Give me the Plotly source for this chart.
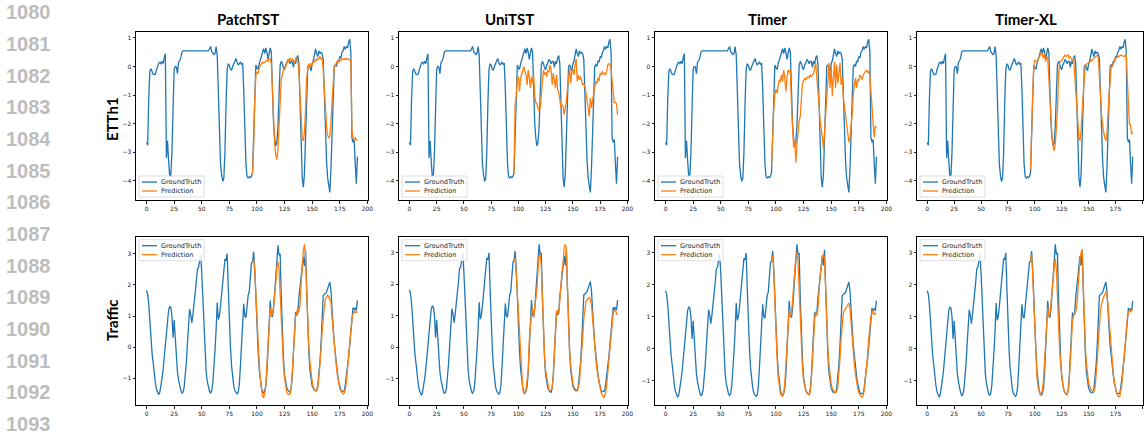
import plotly.graph_objects as go

FIG_W, FIG_H = 1148, 437

models = ["PatchTST", "UniTST", "Timer", "Timer-XL"]
datasets = ["ETTh1", "Traffic"]
time_index = list(range(192))
pred_index = list(range(96, 192))
x_tick_values = [0, 25, 50, 75, 100, 125, 150, 175, 200]
line_numbers = list(range(1080, 1094))
legend_labels = ["GroundTruth", "Prediction"]

etth1_truth = [
    -2.65, -2.75, -1.1, -0.15, -0.08, -0.15, -0.27, -0.28, -0.27, -0.12,
    0.05, 0.12, 0.15, 0.1, 0.18, 0.1, 0.3, 0.45, -3.2, -2.6,
    -3.3, -3.85, -3.8, -3.0, -1.5, -0.1, 0.0, -0.02, -0.25, 0.15,
    0.2, 0.3, 0.5, 0.55, 0.55, 0.55, 0.55, 0.55, 0.55, 0.55,
    0.55, 0.55, 0.55, 0.55, 0.55, 0.55, 0.55, 0.55, 0.55, 0.55,
    0.55, 0.55, 0.55, 0.55, 0.55, 0.55, 0.55, 0.62, 0.7, 0.52,
    0.45, 0.42, 0.45, 0.7, 0.4, -0.9, -2.4, -3.4, -3.8, -4.02,
    -3.9, -3.0, -1.3, -0.1, 0.08, 0.05, -0.1, -0.12, 0.0, 0.1,
    0.2, 0.28, 0.15, 0.05, 0.1, 0.15, 0.08, 0.12, -0.8, -2.4,
    -3.4, -3.85, -3.9, -3.85, -3.88, -3.85, -3.7, -2.4, -0.8, 0.05,
    -0.05, -0.1, 0.1, 0.2, 0.35, 0.5, 0.62, 0.45, 0.65, 0.5,
    0.25, 0.45, 0.65, 0.5, -0.9, -2.0, -2.5, -2.78, -2.65, -2.1,
    -1.0, 0.05, 0.18, 0.1, -0.05, -0.11, 0.05, 0.12, 0.25, 0.2,
    0.1, 0.18, 0.18, -0.03, 0.18, 0.1, 0.3, 0.38, 0.1, -1.5,
    -3.29, -3.9, -4.22, -3.75, -2.48, -1.0, 0.0, 0.06, -0.05, -0.15,
    0.1, 0.2, 0.4, 0.62, 0.45, 0.35, 0.55, 0.45, 0.5, 0.45,
    0.25, -1.0, -2.6, -3.3, -3.9, -4.2, -4.4, -3.6, -2.5, -1.0,
    0.0, 0.06, 0.0, 0.2, 0.15, 0.35, 0.3, 0.5, 0.55, 0.7,
    0.6, 0.7, 0.65, 0.85, 0.95, 0.5, -2.5, -2.65, -2.55, -3.4,
    -4.1, -3.15,
]

etth1_patchtst = [
    -3.75, -2.8, -1.2, -0.3, -0.2, -0.25, -0.05, 0.05, 0.1, 0.15,
    0.12, 0.15, 0.2, 0.22, 0.18, 0.28, 0.25, 0.1, -0.8, -2.0,
    -2.7, -3.1, -3.25, -2.9, -2.1, -1.0, -0.45, -0.3, -0.1, -0.05,
    0.0, 0.12, 0.25, 0.15, 0.3, 0.2, 0.28, 0.22, 0.1, 0.3,
    0.25, 0.2, -0.2, -1.0, -2.0, -2.5, -2.6, -2.3, -1.5, -0.4,
    -0.1, 0.1, -0.05, 0.12, 0.05, 0.2, 0.15, 0.25, 0.2, 0.3,
    0.25, 0.35, 0.25, 0.3, -0.1, -0.9, -1.6, -2.1, -2.4, -2.5,
    -2.45, -2.0, -1.2, -0.3, 0.0, 0.05, 0.12, 0.2, 0.15, 0.25,
    0.2, 0.28, 0.27, 0.25, 0.28, 0.25, 0.27, 0.25, 0.22, 0.2,
    -2.2, -2.5, -2.55, -2.5, -2.58, -2.55,
]

etth1_unitst = [
    -3.76, -1.3, -1.1, -0.4, -0.35, -0.87, -0.4, -0.25, -0.12, 0.0,
    -0.17, -0.3, -0.64, -0.12, -0.4, -0.75, -0.35, -0.58, -0.29, -1.04,
    -1.27, -1.3, -1.45, -1.56, -1.45, -0.98, -0.64, -0.12, -0.29, -0.2,
    -0.35, -0.12, -0.2, 0.06, -0.12, -0.64, -0.23, -0.5, -0.75, -0.29,
    -0.81, -0.9, -1.16, -1.45, -1.35, -1.39, -1.68, -1.45, -1.22, -0.75,
    -0.29, -0.06, -0.58, -0.17, -0.1, -0.29, 0.06, 0.27, -0.52, -0.3,
    -0.46, -0.35, -0.52, -0.64, -0.6, -0.7, -0.93, -1.27, -1.5, -1.74,
    -1.1, -1.45, -1.2, -0.95, -0.81, -0.52, -0.6, -0.4, -0.5, -0.23,
    -0.3, -0.17, -0.25, -0.23, -0.3, -0.17, 0.06, 0.1, 0.05, -0.06,
    -0.5, -0.98, -1.27, -1.25, -1.3, -1.7,
]

etth1_timer = [
    -3.5, -2.3, -1.5, -0.98, -0.8, -0.93, -0.64, -0.46, -0.55, -0.29,
    -0.52, -0.12, -0.4, -0.87, -0.35, -0.12, -0.2, -0.12, -1.33, -1.91,
    -2.84, -2.6, -3.36, -2.72, -2.14, -1.9, -1.74, -0.98, -0.58, -0.52,
    -0.4, -0.46, -0.38, -0.35, -0.4, -0.29, -0.35, -0.29, -0.25, -0.05,
    0.12, -0.4, -0.75, -1.33, -1.91, -2.14, -2.48, -2.9, -2.3, -1.68,
    -0.98, -0.29, 0.12, -0.75, 0.06, -1.04, -0.29, 0.17, -0.75, 0.06,
    -0.58, -0.17, 0.12, -0.64, -0.4, -1.1, -1.33, -1.68, -2.03, -2.37,
    -2.65, -2.48, -2.14, -1.68, -0.98, -0.64, -0.4, -0.75, -0.45, -0.52,
    -0.29, -0.35, -0.46, -0.3, -0.23, -0.15, -0.12, -0.2, -0.17, -0.3,
    -0.98, -1.56, -2.0, -2.48, -2.08, -2.14,
]

etth1_timerxl = [
    -3.6, -2.0, -0.98, -0.06, 0.23, 0.2, 0.17, 0.23, 0.3, 0.4,
    0.52, 0.4, 0.29, 0.46, 0.17, 0.35, 0.3, -0.4, -1.2, -1.91,
    -2.48, -2.75, -2.95, -2.7, -2.1, -1.56, -0.4, 0.17, 0.17, 0.22,
    0.29, 0.35, 0.4, 0.35, 0.38, 0.4, 0.29, 0.35, 0.25, 0.17,
    0.29, -0.3, -0.98, -1.68, -2.14, -2.48, -2.6, -2.26, -1.56, -0.8,
    -0.4, 0.06, 0.08, 0.1, 0.12, 0.15, 0.23, 0.2, 0.25, 0.29,
    0.3, 0.35, 0.4, 0.29, -0.2, -0.98, -1.68, -2.14, -2.3, -2.48,
    -2.6, -2.37, -1.56, -1.0, -0.52, 0.0, 0.0, 0.1, 0.2, 0.29,
    0.3, 0.35, 0.35, 0.38, 0.4, 0.38, 0.35, 0.35, 0.38, 0.4,
    -0.5, -1.56, -2.03, -2.03, -2.37, -2.3,
]

traffic_truth = [
    1.82, 1.7, 1.38, 0.7, 0.14, -0.2, -0.5, -0.9, -1.15, -1.35,
    -1.45, -1.53, -1.45, -1.26, -1.0, -0.72, -0.3, 0.1, 0.6, 0.9,
    1.2, 1.3, 1.27, 1.0, 0.3, 0.87, 0.15, -0.35, -0.8, -1.05,
    -1.25, -1.38, -1.47, -1.45, -1.3, -1.0, -0.5, 0.1, 0.7, 1.22,
    1.05, 0.78, 1.05, 1.35, 1.65, 2.08, 2.5, 2.55, 2.75, 2.98,
    2.37, 1.6, 0.57, -0.29, -0.8, -1.1, -1.3, -1.42, -1.47, -1.4,
    -1.15, -0.75, -0.1, 0.55, 1.43, 0.89, 1.0, 1.32, 1.65, 2.08,
    2.5, 2.83, 2.78, 3.0, 1.9, 0.8, 0.0, -0.6, -1.0, -1.25,
    -1.4, -1.47, -1.5, -1.45, -1.2, -0.6, 0.2, 0.9, 1.39, 1.0,
    0.95, 1.3, 1.66, 1.77, 2.36, 2.7, 2.75, 3.06, 2.5, 1.5,
    0.6, -0.1, -0.7, -1.05, -1.3, -1.42, -1.47, -1.4, -1.25, -0.8,
    -0.1, 0.75, 1.5, 1.02, 0.97, 1.23, 1.82, 2.04, 2.73, 3.27,
    2.95, 3.0, 1.6, 0.4, -0.35, -0.9, -1.15, -1.3, -1.38, -1.42,
    -1.45, -1.3, -0.9, -0.2, 0.5, 1.13, 1.02, 1.1, 1.6, 1.93,
    2.04, 2.57, 2.9, 2.6, 3.1, 1.9, 0.6, -0.2, -0.75, -1.05,
    -1.25, -1.32, -1.38, -1.39, -1.38, -1.25, -0.9, -0.5, 0.1, 0.8,
    1.66, 1.7, 1.72, 1.77, 1.85, 1.98, 2.09, 1.82, 1.2, 0.54,
    0.1, -0.21, -0.6, -0.86, -1.1, -1.29, -1.38, -1.42, -1.42, -1.4,
    -1.2, -0.97, -0.6, -0.32, 0.1, 0.54, 1.0, 1.27, 1.2, 1.25,
    1.18, 1.5,
]

traffic_patchtst = [
    2.75, 2.8, 2.46, 1.6, 0.8, 0.2, -0.5, -1.0, -1.4, -1.58,
    -1.61, -1.5, -1.2, -0.5, 0.2, 1.0, 1.25, 1.0, 1.1, 1.3,
    1.6, 2.03, 2.57, 2.75, 2.5, 1.6, 0.7, 0.0, -0.6, -1.0,
    -1.3, -1.45, -1.5, -1.52, -1.5, -1.3, -0.8, -0.2, 0.6, 1.0,
    1.12, 1.28, 1.12, 1.39, 2.03, 2.68, 3.1, 3.3, 2.9, 1.8,
    0.7, 0.0, -0.5, -0.86, -1.1, -1.29, -1.38, -1.42, -1.4, -1.3,
    -1.0, -0.6, -0.1, 0.5, 1.0, 1.28, 1.55, 1.62, 1.66, 1.62,
    1.55, 1.45, 0.96, 0.5, 0.1, -0.3, -0.65, -0.95, -1.18, -1.32,
    -1.42, -1.48, -1.5, -1.48, -1.35, -1.1, -0.7, -0.3, 0.2, 0.53,
    0.9, 1.07, 1.15, 1.1, 1.15, 1.1,
]

traffic_unitst = [
    2.73, 2.84, 2.36, 1.7, 1.07, 0.4, -0.32, -0.97, -1.34, -1.47,
    -1.47, -1.35, -1.1, -0.75, 0.21, 0.7, 1.07, 1.23, 0.94, 1.29,
    1.6, 1.82, 2.47, 2.9, 2.95, 2.57, 1.6, 0.32, -0.3, -0.75,
    -1.0, -1.23, -1.35, -1.39, -1.37, -1.3, -0.97, -0.21, 0.64, 1.13,
    1.18, 1.07, 1.5, 2.04, 2.4, 2.68, 3.16, 3.27, 3.16, 1.9,
    0.6, -0.1, -0.6, -0.95, -1.15, -1.28, -1.35, -1.37, -1.35, -1.3,
    -1.1, -0.7, -0.2, 0.3, 0.9, 1.3, 1.45, 1.5, 1.55, 1.58,
    1.5, 1.35, 0.95, 0.4, 0.0, -0.35, -0.7, -0.95, -1.15, -1.3,
    -1.45, -1.55, -1.6, -1.58, -1.45, -1.2, -0.8, -0.35, 0.1, 0.5,
    0.85, 1.1, 1.15, 1.18, 1.07, 1.02,
]

traffic_timer = [
    2.75, 2.91, 2.4, 1.4, 0.4, -0.3, -0.9, -1.2, -1.4, -1.48,
    -1.5, -1.4, -1.1, -0.5, 0.2, 0.9, 1.22, 1.0, 1.11, 1.48,
    1.96, 2.49, 2.91, 3.02, 2.7, 1.85, 0.9, 0.1, -0.6, -1.0,
    -1.22, -1.32, -1.4, -1.43, -1.45, -1.35, -1.0, -0.4, 0.3, 0.9,
    1.16, 1.06, 1.22, 1.85, 2.3, 2.6, 2.91, 2.96, 2.8, 1.9,
    0.8, 0.0, -0.5, -0.85, -1.1, -1.25, -1.32, -1.36, -1.38, -1.35,
    -1.2, -0.8, -0.3, 0.3, 0.9, 1.11, 1.2, 1.27, 1.32, 1.41,
    1.43, 1.27, 0.79, 0.3, -0.1, -0.5, -0.8, -1.06, -1.25, -1.38,
    -1.45, -1.5, -1.52, -1.47, -1.3, -1.0, -0.6, -0.2, 0.3, 0.7,
    1.0, 1.11, 1.22, 1.06, 1.11, 1.1,
]

traffic_timerxl = [
    2.75, 2.96, 2.3, 1.4, 0.5, -0.3, -0.9, -1.2, -1.38, -1.45,
    -1.43, -1.3, -1.0, -0.4, 0.3, 0.9, 1.27, 1.0, 1.1, 1.43,
    1.85, 2.2, 2.55, 2.82, 2.5, 1.64, 0.7, 0.0, -0.5, -0.9,
    -1.15, -1.3, -1.4, -1.44, -1.45, -1.32, -1.0, -0.4, 0.3, 0.85,
    1.05, 1.11, 1.16, 1.32, 1.85, 2.49, 2.8, 3.0, 3.12, 2.0,
    0.8, 0.0, -0.5, -0.85, -1.05, -1.2, -1.28, -1.33, -1.35, -1.33,
    -1.22, -0.9, -0.4, 0.2, 0.8, 1.15, 1.4, 1.55, 1.62, 1.7,
    1.75, 1.69, 1.4, 0.9, 0.4, -0.05, -0.45, -0.8, -1.05, -1.25,
    -1.4, -1.48, -1.52, -1.5, -1.35, -1.1, -0.7, -0.25, 0.2, 0.6,
    0.95, 1.11, 1.22, 1.16, 1.2, 1.2,
]

truth = {"ETTh1": etth1_truth, "Traffic": traffic_truth}
preds = {
    ("ETTh1", "PatchTST"): etth1_patchtst,
    ("ETTh1", "UniTST"): etth1_unitst,
    ("ETTh1", "Timer"): etth1_timer,
    ("ETTh1", "Timer-XL"): etth1_timerxl,
    ("Traffic", "PatchTST"): traffic_patchtst,
    ("Traffic", "UniTST"): traffic_unitst,
    ("Traffic", "Timer"): traffic_timer,
    ("Traffic", "Timer-XL"): traffic_timerxl,
}
for v in truth.values():
    assert len(v) == len(time_index)
for v in preds.values():
    assert len(v) == len(pred_index)

# ---- layout (pixel boxes of each axes frame) ----
col_px = [(136, 368), (399, 628), (655, 887), (917, 1143)]
row_px = [(31.7, 200.0), (236.7, 405.0)]
title_x_px = [248, 509, 767, 1026]
row_label_y_px = [119, 320]

BLUE = "#1f77b4"
ORANGE = "#ff7f0e"


def fx(px):
    return px / FIG_W


def fy(py):
    return 1 - py / FIG_H


fig = go.Figure()
layout = dict(
    width=FIG_W, height=FIG_H,
    margin=dict(l=0, r=0, t=0, b=0),
    paper_bgcolor="white", plot_bgcolor="white",
    showlegend=False,
)
shapes, annotations = [], []

for r, ds in enumerate(datasets):
    for c, model in enumerate(models):
        k = r * 4 + c + 1
        xa = "x" if k == 1 else f"x{k}"
        ya = "y" if k == 1 else f"y{k}"
        gt = truth[ds]
        pr = preds[(ds, model)]
        fig.add_trace(go.Scatter(x=time_index, y=gt, mode="lines", name=legend_labels[0],
                                 line=dict(color=BLUE, width=1.3), xaxis=xa, yaxis=ya,
                                 hoverinfo="skip"))
        fig.add_trace(go.Scatter(x=pred_index, y=pr, mode="lines", name=legend_labels[1],
                                 line=dict(color=ORANGE, width=1.3), xaxis=xa, yaxis=ya,
                                 hoverinfo="skip"))
        allv = list(gt) + list(pr)
        lo, hi = min(allv), max(allv)
        pad = 0.05 * (hi - lo)
        xlo, xhi = min(time_index), max(time_index)
        xpad = 0.05 * (xhi - xlo)
        c0, c1 = col_px[c]
        r0, r1 = row_px[r]
        common = dict(showline=True, mirror=True, linecolor="black", linewidth=1,
                      ticks="outside", ticklen=2.5, tickwidth=0.7, tickcolor="#222",
                      showgrid=False, zeroline=False, automargin=False,
                      tickfont=dict(family="DejaVu Sans", size=6, color="#1a1a1a"))
        layout["xaxis" if k == 1 else f"xaxis{k}"] = dict(
            domain=[fx(c0), fx(c1)], anchor=ya, range=[xlo - xpad, xhi + xpad],
            tickmode="array", tickvals=x_tick_values, **common)
        layout["yaxis" if k == 1 else f"yaxis{k}"] = dict(
            domain=[fy(r1), fy(r0)], anchor=xa, range=[lo - pad, hi + pad],
            tickmode="linear", tick0=0, dtick=1, **common)

        # legend box
        bl = c0 + 3
        bt = (r1 - 3 - 21) if r == 0 else (r0 + 3)
        shapes.append(dict(type="rect", xref="paper", yref="paper",
                           x0=fx(bl), x1=fx(bl + 65), y0=fy(bt + 21), y1=fy(bt),
                           fillcolor="rgba(255,255,255,0.85)",
                           line=dict(color="#d5d5d5", width=0.8), layer="above"))
        for i, (lab, col) in enumerate(zip(legend_labels, [BLUE, ORANGE])):
            yy = bt + 6 + 9 * i
            shapes.append(dict(type="line", xref="paper", yref="paper",
                               x0=fx(bl + 3), x1=fx(bl + 18), y0=fy(yy), y1=fy(yy),
                               line=dict(color=col, width=1.3), layer="above"))
            annotations.append(dict(text=lab, xref="paper", yref="paper",
                                    x=fx(bl + 21), y=fy(yy), xanchor="left", yanchor="middle",
                                    showarrow=False, borderpad=0,
                                    font=dict(family="DejaVu Sans", size=6.5, color="#222")))

for c, model in enumerate(models):
    annotations.append(dict(text=model, xref="paper", yref="paper",
                            x=fx(title_x_px[c]), y=fy(18.5), xanchor="center", yanchor="middle",
                            showarrow=False,
                            font=dict(family="Lato", size=15, color="black", weight="bold")))
for r, ds in enumerate(datasets):
    annotations.append(dict(text=ds, xref="paper", yref="paper", textangle=-90,
                            x=fx(112), y=fy(row_label_y_px[r]), xanchor="center", yanchor="middle",
                            showarrow=False,
                            font=dict(family="Lato", size=15, color="black", weight="bold")))
for i, n in enumerate(line_numbers):
    annotations.append(dict(text=str(n), xref="paper", yref="paper",
                            x=fx(4), y=fy(12.2 + 31.68 * i), xanchor="left", yanchor="middle",
                            showarrow=False,
                            font=dict(family="Liberation Sans", size=20, color="#bdbdbd",
                                      weight="bold")))

layout["shapes"] = shapes
layout["annotations"] = annotations
fig.update_layout(**layout)
fig.write_html("out.html")
